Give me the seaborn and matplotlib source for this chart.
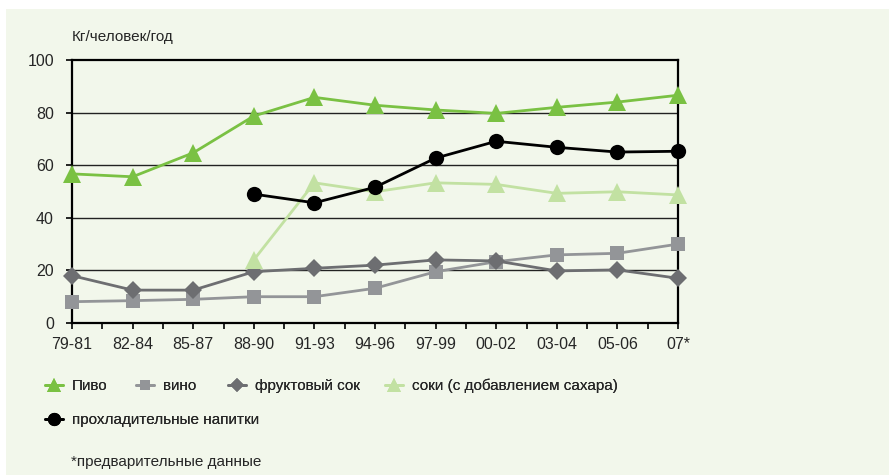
import numpy as np
import pandas as pd
import matplotlib
matplotlib.use("Agg")
import matplotlib.pyplot as plt
from matplotlib import font_manager
from matplotlib.lines import Line2D
from matplotlib.patches import Rectangle
import seaborn as sns

periods = ["79-81", "82-84", "85-87", "88-90", "91-93", "94-96",
           "97-99", "00-02", "03-04", "05-06", "07*"]

beer = [56.7, 55.6, 64.7, 78.7, 85.8, 82.8, 81.0, 79.7, 82.0, 84.0, 86.6]
wine = [8.1, 8.5, 9.0, 10.0, 10.0, 13.2, 19.5, 23.3, 25.9, 26.5, 30.0]
fruit_juice = [18.0, 12.5, 12.5, 19.5, 20.8, 22.0, 24.0, 23.6, 19.8, 20.2, 17.0]
sweet_juice = [None, None, None, 24.0, 53.3, 49.9, 53.3, 52.7, 49.3, 49.9, 48.7]
soft_drinks = [None, None, None, 49.0, 45.7, 51.6, 62.7, 69.1, 66.8, 65.0, 65.3]

series_names = ["Пиво", "вино", "фруктовый сок",
                "соки (с добавлением сахара)", "прохладительные напитки"]
series_values = [beer, wine, fruit_juice, sweet_juice, soft_drinks]
colors = ["#7ac143", "#939598", "#6d6e71", "#c2e1a2", "#000000"]
markers = ["^", "s", "D", "^", "o"]
msizes = [13, 10, 9, 13, 11]

rows = []
for name, vals in zip(series_names, series_values):
    for i, v in enumerate(vals):
        rows.append({"series": name, "idx": i,
                     "value": np.nan if v is None else v})
df = pd.DataFrame(rows)

sns.set_theme(style="white")
names = {f.name for f in font_manager.fontManager.ttflist}
fam = "Liberation Sans Narrow" if "Liberation Sans Narrow" in names else "Liberation Sans"
plt.rcParams["font.family"] = [fam, "DejaVu Sans"]

BG = "#f2f7eb"
fig = plt.figure(figsize=(8.89, 4.75), dpi=100, facecolor="white")
fig.patches.append(Rectangle((6 / 889, 0), 1, 1 - 9 / 475, transform=fig.transFigure,
                             facecolor=BG, edgecolor="none", zorder=-10))

ax = fig.add_axes([72 / 889, 1 - 323 / 475, (678 - 72) / 889, (323 - 60) / 475])
ax.set_facecolor("none")

# horizontal grid lines
for gy in [20, 40, 60, 80]:
    ax.axhline(gy, color="#222222", lw=1.0, zorder=1)

draw_order = [1, 2, 3, 4, 0]
for k in draw_order:
    sub = df[df["series"] == series_names[k]].dropna()
    sns.lineplot(data=sub, x="idx", y="value", ax=ax, color=colors[k],
                 marker=markers[k], markersize=msizes[k], markeredgewidth=0,
                 linewidth=2.0, zorder=3 + k, legend=False, clip_on=False)

ax.set_xlim(0, len(periods) - 1)
ax.set_ylim(0, 100)
ax.set_xticks(range(len(periods)))
ax.set_xticklabels(periods, fontsize=11.5)
ax.set_xticks(np.arange(0.5, len(periods) - 1, 1), minor=True)
ax.set_yticks([0, 20, 40, 60, 80, 100])
ax.set_yticklabels(["0", "20", "40", "60", "80", "100"], fontsize=11.5)
ax.tick_params(axis="x", which="both", direction="out", length=4, width=1.2,
               color="black", bottom=True, pad=6)
ax.tick_params(axis="y", direction="out", length=4, width=1.2, color="black",
               left=True, pad=9)
ax.set_xlabel("")
ax.set_ylabel("")
for s in ax.spines.values():
    s.set_visible(True)
    s.set_color("black")
    s.set_linewidth(1.6)

fig.text(72 / 889, 1 - 37 / 475, "Кг/человек/год", fontsize=11, va="center", ha="left")

# legend: one entry per box so each sits at its own spot
def handle(k):
    return Line2D([], [], color=colors[k], marker=markers[k],
                  markersize=[10, 7, 7.5, 10, 9.5][k],
                  markeredgewidth=0, linewidth=2)

legend_spots = [(45, 386), (136, 386), (228, 386), (385, 386), (45, 420)]
for k, (lx, ly) in enumerate(legend_spots):
    lg = fig.legend([handle(k)], [series_names[k]], loc="center left",
                    bbox_to_anchor=(lx / 889, 1 - ly / 475), frameon=False,
                    fontsize=11, handlelength=1.2, handletextpad=0.55,
                    borderpad=0, borderaxespad=0)
    fig.add_artist(lg)

fig.text(71 / 889, 1 - 462 / 475, "*предварительные данные", fontsize=11,
         va="center", ha="left")

fig.savefig("out.png", dpi=100, facecolor="white")
